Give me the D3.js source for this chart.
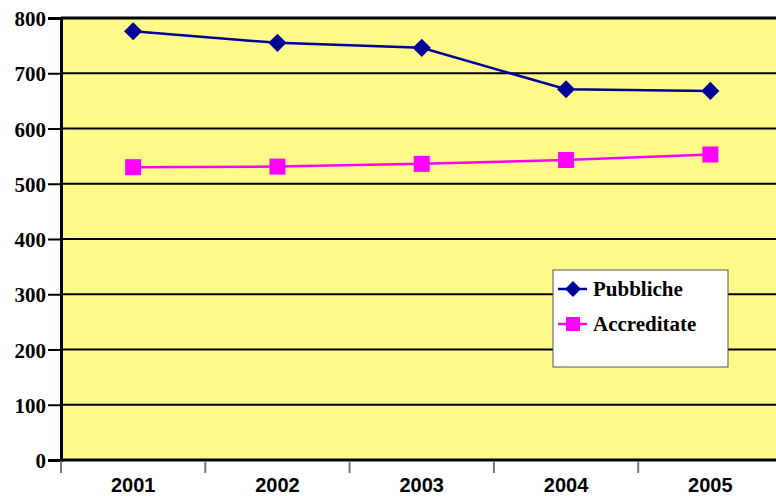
<!DOCTYPE html>
<html>
<head>
<meta charset="utf-8">
<script src="https://cdn.jsdelivr.net/npm/d3@7"></script>
<style>
  body { margin: 0; background: #fff; }
  svg { display: block; }
</style>
</head>
<body>
<div id="chart"></div>
<script>
var years = ['2001', '2002', '2003', '2004', '2005'];
var pubbliche = [776, 755, 746, 671, 668];
var accreditate = [530, 531, 536, 543, 553];
var yTicks = [0, 100, 200, 300, 400, 500, 600, 700, 800];

var width = 776, height = 496;
var left = 61, top_y = 18, bottom_y = 460;
var bandW = 144.3;
var serif = 'Liberation Serif';
var sans = 'Liberation Sans';

var svg = d3.select('#chart').append('svg')
  .attr('width', width)
  .attr('height', height);

var x = d3.scaleBand()
  .domain(years)
  .range([left, left + bandW * years.length]);

var y = d3.scaleLinear()
  .domain([0, 800])
  .range([bottom_y, top_y]);

// plot background
svg.append('rect')
  .attr('x', left)
  .attr('y', top_y)
  .attr('width', bandW * years.length)
  .attr('height', bottom_y - top_y)
  .attr('fill', '#FFFA8A');

// gridlines
svg.append('g').selectAll('line')
  .data(yTicks)
  .join('line')
  .attr('x1', left)
  .attr('x2', left + bandW * years.length)
  .attr('y1', d => y(d))
  .attr('y2', d => y(d))
  .attr('stroke', '#000')
  .attr('stroke-width', d => (d === 0 || d === 800) ? 3 : 2);

// y axis (ticks from the axis, labels written separately)
var yAxis = svg.append('g')
  .attr('transform', `translate(${left}, 0)`)
  .call(d3.axisLeft(y).tickValues(yTicks).tickSize(13).tickFormat(''));
yAxis.select('.domain').attr('stroke', '#000').attr('stroke-width', 3);
yAxis.selectAll('.tick line').attr('stroke', '#000').attr('stroke-width', 2);
svg.append('g').selectAll('text')
  .data(yTicks)
  .join('text')
  .attr('x', left - 15)
  .attr('y', d => y(d) + 8)
  .attr('text-anchor', 'end')
  .attr('font-family', serif)
  .attr('font-weight', 'bold')
  .attr('font-size', 21)
  .attr('fill', '#000')
  .text(d => d);

// x axis
svg.append('g').selectAll('line')
  .data(years)
  .join('line')
  .attr('x1', d => x(d))
  .attr('x2', d => x(d))
  .attr('y1', bottom_y + 1)
  .attr('y2', bottom_y + 13)
  .attr('stroke', '#777')
  .attr('stroke-width', 2);
svg.append('g').selectAll('text')
  .data(years)
  .join('text')
  .attr('x', d => x(d) + x.bandwidth() / 2)
  .attr('y', 492)
  .attr('text-anchor', 'middle')
  .attr('font-family', sans)
  .attr('font-weight', 'bold')
  .attr('font-size', 20)
  .attr('fill', '#000')
  .text(d => d);

var cx = d => x(d) + x.bandwidth() / 2;

var line = d3.line()
  .x((d, i) => cx(years[i]))
  .y(d => y(d));

// Accreditate
svg.append('path')
  .datum(accreditate)
  .attr('d', line)
  .attr('fill', 'none')
  .attr('stroke', '#FF00FF')
  .attr('stroke-width', 2.5);
svg.append('g').selectAll('rect')
  .data(accreditate)
  .join('rect')
  .attr('x', (d, i) => cx(years[i]) - 8)
  .attr('y', d => y(d) - 8)
  .attr('width', 16)
  .attr('height', 16)
  .attr('fill', '#FF00FF');

// Pubbliche
svg.append('path')
  .datum(pubbliche)
  .attr('d', line)
  .attr('fill', 'none')
  .attr('stroke', '#000099')
  .attr('stroke-width', 2.5);
var diamond = d3.symbol().type(d3.symbolDiamond2).size(210);
svg.append('g').selectAll('path')
  .data(pubbliche)
  .join('path')
  .attr('d', diamond)
  .attr('transform', (d, i) => `translate(${cx(years[i])}, ${y(d)})`)
  .attr('fill', '#000099');

// legend
var legend = svg.append('g').attr('transform', 'translate(553, 270)');
legend.append('rect')
  .attr('width', 175)
  .attr('height', 97)
  .attr('fill', '#fff')
  .attr('stroke', '#555')
  .attr('stroke-width', 1);

var items = [
  {name: 'Pubbliche', color: '#000099', shape: 'diamond'},
  {name: 'Accreditate', color: '#FF00FF', shape: 'square'}
];
var li = legend.selectAll('g.item')
  .data(items)
  .join('g')
  .attr('class', 'item')
  .attr('transform', (d, i) => `translate(0, ${19 + i * 35})`);
li.append('line')
  .attr('x1', 5).attr('x2', 34)
  .attr('stroke', d => d.color)
  .attr('stroke-width', 2.5);
li.filter(d => d.shape === 'diamond').append('path')
  .attr('d', d3.symbol().type(d3.symbolDiamond2).size(160))
  .attr('transform', 'translate(20, 0)')
  .attr('fill', d => d.color);
li.filter(d => d.shape === 'square').append('rect')
  .attr('x', 13).attr('y', -7)
  .attr('width', 14).attr('height', 14)
  .attr('fill', d => d.color);
li.append('text')
  .attr('x', 40)
  .attr('y', 7)
  .attr('font-family', serif)
  .attr('font-weight', 'bold')
  .attr('font-size', 21)
  .attr('fill', '#000')
  .text(d => d.name);
</script>
</body>
</html>
